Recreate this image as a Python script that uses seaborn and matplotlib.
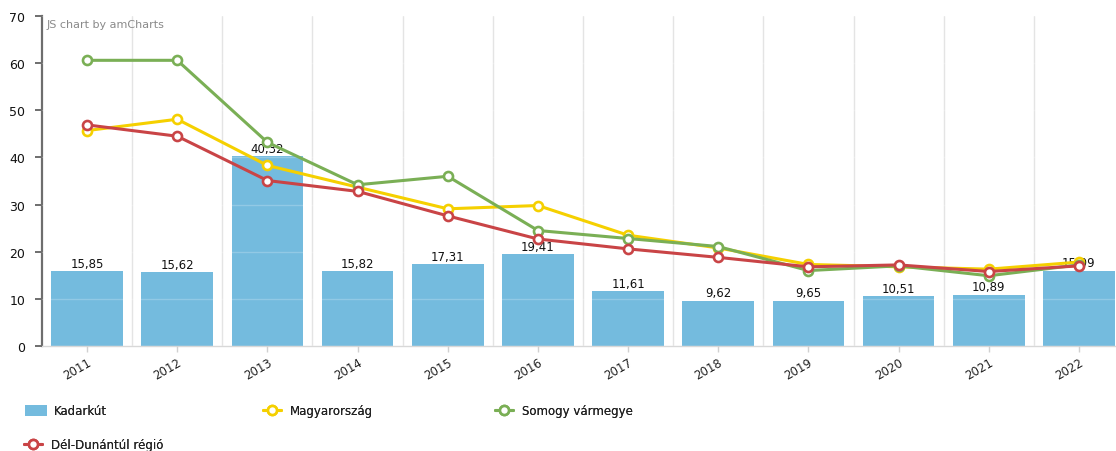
import matplotlib
matplotlib.use("Agg")
import matplotlib.pyplot as plt
from matplotlib.ticker import FixedLocator, MultipleLocator
import numpy as np
import pandas as pd
import seaborn as sns

# Yearly values per area
years = ["2011", "2012", "2013", "2014", "2015", "2016",
         "2017", "2018", "2019", "2020", "2021", "2022"]
kadarkut = [15.85, 15.62, 40.32, 15.82, 17.31, 19.41,
            11.61, 9.62, 9.65, 10.51, 10.89, 15.99]
magyarorszag = [45.7, 48.1, 38.3, 33.7, 29.1, 29.8,
                23.5, 20.8, 17.3, 16.8, 16.3, 17.8]
somogy = [60.6, 60.6, 43.2, 34.2, 36.0, 24.5,
          22.8, 21.1, 16.0, 17.0, 14.9, 17.2]
del_dunantul = [46.9, 44.5, 35.1, 32.8, 27.6, 22.7,
                20.6, 18.8, 16.8, 17.2, 15.8, 17.0]

bar_name = "Kadarkút"
line_series = [
    ("Magyarország", magyarorszag, "#f5d000"),
    ("Somogy vármegye", somogy, "#7aaf55"),
    ("Dél-Dunántúl régió", del_dunantul, "#c94446"),
]
bar_color = "#74bbde"

sns.set_theme(style="white")
plt.rcParams["font.family"] = ["DejaVu Sans"]

W, H = 1116, 452
fig = plt.figure(figsize=(W / 100, H / 100), dpi=100)
# plot area in pixels: x 42..1124, y 17..347 (from top)
ax = fig.add_axes([42 / W, (H - 347) / H, (1124 - 42) / W, 330 / H])

df_bar = pd.DataFrame({"year": years, "value": kadarkut})
sns.barplot(data=df_bar, x="year", y="value", color=bar_color,
            saturation=1, width=0.795, linewidth=0, errorbar=None,
            ax=ax, zorder=1)
bars = ax.containers[0]

labels = [f"{v:.2f}".replace(".", ",") for v in kadarkut]
ax.bar_label(bars, labels=labels, padding=1.0,
             fontsize=8.5, color="#111111", zorder=3)

line_handles = []
for name, vals, col in line_series:
    d = pd.DataFrame({"year": years, "value": vals})
    n_before = len(ax.lines)
    sns.pointplot(data=d, x="year", y="value", color=col, ax=ax,
                  markers="o", markersize=6.5, linewidth=2.2,
                  markerfacecolor="white", markeredgecolor=col,
                  markeredgewidth=1.9, errorbar=None, zorder=4)
    new_lines = [l for l in ax.lines[n_before:] if l.get_marker() == "o"]
    line_handles.append(new_lines[0])

ax.set_xlim(-0.5, len(years) - 0.5)
ax.set_ylim(0, 70)
ax.yaxis.set_major_locator(MultipleLocator(10))
ax.set_xlabel("")
ax.set_ylabel("")

# grids: vertical separators between categories, faint horizontal lines
ax.xaxis.set_minor_locator(FixedLocator(np.arange(0.5, len(years) - 1, 1.0)))
ax.set_axisbelow(False)
ax.grid(axis="x", which="minor", color="#e4e4e4", linewidth=1.0)
ax.grid(axis="x", which="major", visible=False)
ax.grid(axis="y", which="major", color="white", alpha=0.22, linewidth=1.0)

for s in ["top", "right"]:
    ax.spines[s].set_visible(False)
ax.spines["left"].set_color("#6e6e6e")
ax.spines["left"].set_linewidth(1.6)
ax.spines["bottom"].set_color("#d8d8d8")
ax.spines["bottom"].set_linewidth(1.0)

ax.tick_params(axis="y", which="major", left=True, length=5, width=1.4,
               color="#6e6e6e", labelsize=9, labelcolor="#111111", pad=7)
ax.tick_params(axis="x", which="major", bottom=True, length=4, width=1.0,
               color="#d0d0d0", labelsize=8.5, labelcolor="#222222", pad=3)
ax.tick_params(axis="x", which="minor", bottom=False)
for lab in ax.get_xticklabels():
    lab.set_rotation(30)
    lab.set_ha("right")
    lab.set_rotation_mode("anchor")

fig.text(47 / W, 1 - 25 / H, "JS chart by amCharts", fontsize=8,
         color="#8a8a8a", ha="left", va="center")

# legend entries laid out in rows like the source widget
handles = {bar_name: bars.patches[0]}
for (name, _, _), ln in zip(line_series, line_handles):
    handles[name] = ln

legend_slots = [
    (bar_name, 25, 412),
    ("Magyarország", 263, 412),
    ("Somogy vármegye", 495, 412),
    ("Dél-Dunántúl régió", 24, 446),
]
for name, px, py in legend_slots:
    is_bar = name == bar_name
    leg = fig.legend([handles[name]], [name], loc="center left",
                     bbox_to_anchor=(px / W, 1 - py / H), frameon=False,
                     fontsize=8.5, handlelength=1.9 if is_bar else 1.5,
                     handleheight=0.95, handletextpad=0.55 if is_bar else 0.8,
                     borderpad=0, borderaxespad=0, labelcolor="#222222")
    fig.add_artist(leg)

fig.savefig("out.png", dpi=100)
